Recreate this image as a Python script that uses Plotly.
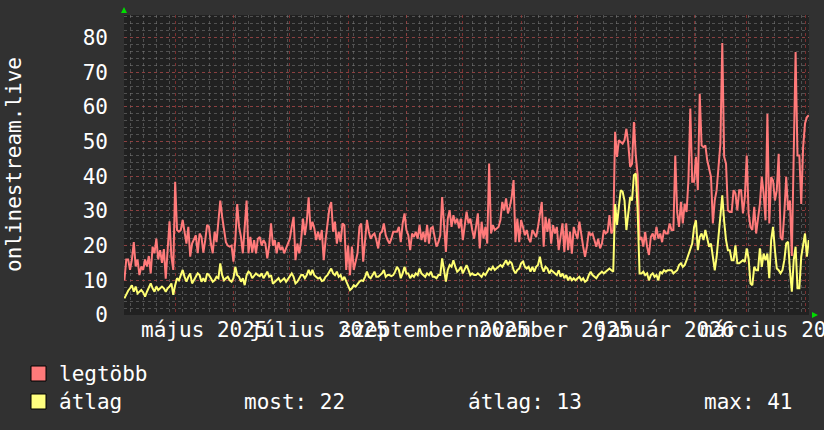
import pandas as pd
import plotly.graph_objects as go

# ---- data (daily values, 2025-04-04 .. 2026-04-03) ----
start_date = "2025-04-04"

legtobb = [
    10, 16, 16, 13, 16, 21, 14, 16, 11.5, 14,
    13, 16, 14, 17, 12, 19.7, 17.8, 22, 16, 18.7,
    15, 19, 10.5, 18.7, 27, 16.8, 13, 38.4, 24.5, 24,
    24.5, 27.4, 24.5, 20.6, 25.4, 16.8, 20.6, 22, 23, 17.8,
    23.5, 22.5, 18, 21.6, 26, 25.4, 20.6, 17.8, 24, 21,
    26.4, 33, 28.3, 24.5, 21, 20, 19.7, 20, 15.4, 21.6,
    32, 25.4, 22.5, 17.8, 25.4, 33, 17.8, 22.5, 18, 21.6,
    17.8, 22, 22.5, 20, 21.6, 20.6, 16.3, 20, 26.4, 20,
    21.6, 17.8, 21, 18.7, 19.7, 17.8, 19.2, 20.6, 22, 25.4,
    28.3, 15.8, 20.6, 17.8, 21.6, 27.8, 23, 26.9, 33.9, 24.5,
    26.9, 25, 21.6, 24, 21.6, 24.5, 15.8, 21.6, 26.4, 30.7,
    32.6, 24, 26.9, 20.6, 24, 21, 26.4, 25.9, 13, 20,
    11.5, 19.7, 13, 15.8, 17.8, 25.4, 26.4, 15.4, 22.5, 27.4,
    24, 22, 23, 23.5, 21.6, 19.2, 23.5, 24, 26.4, 23,
    21.6, 20.6, 22, 24, 24, 24, 25.4, 21, 26.4, 29.3,
    24.5, 23, 18.7, 23.5, 22.5, 24, 22, 26, 21.6, 24,
    21, 26, 20.6, 25, 25.4, 22, 19.7, 21, 23, 34,
    26.4, 18.2, 27.8, 30.2, 25.4, 28.8, 26.4, 27.8, 25, 27.8,
    21.6, 25.4, 29.8, 26.4, 27.8, 24.5, 22, 25.4, 29.3, 19.2,
    26.9, 22, 25.4, 20.6, 43.7, 23.5, 25.9, 24.5, 25, 25.4,
    27.4, 32.6, 30.2, 33.6, 29.3, 31.2, 34, 38.9, 21, 27.8,
    21, 27.4, 25.4, 23, 24.5, 22, 21, 24.5, 23.5, 22.5,
    25.4, 29.3, 32.6, 19.7, 28.3, 24, 27.8, 20.6, 25.9, 23.5,
    25.4, 18.7, 23.5, 26.4, 18.2, 26.4, 18.7, 24, 17.7, 25.4,
    23.5, 22, 26.9, 23, 19.7, 16.8, 19.7, 24, 23, 23.5,
    21.6, 19.7, 22, 19.2, 20.6, 24.5, 23.5, 24, 28.8, 23.5,
    24.5, 52.8, 45.6, 50.4, 49.9, 49.4, 50.4, 53.7, 49.4, 42.7,
    43.6, 55.6, 46, 40.3, 21.6, 22.5, 19.7, 24, 19.7, 17.3,
    22.5, 23.5, 21.6, 25.4, 22, 23.5, 21, 24.5, 23.5, 23.5,
    26.4, 24.5, 24.5, 46, 29.7, 25.4, 32.6, 26.4, 32.1, 29.7,
    38.8, 59.5, 38.4, 38.4, 45.6, 36, 63.8, 48.9, 48.4, 48.9,
    44.6, 41.7, 39.8, 26.4, 33.1, 36, 41.7, 49.4, 78.4, 45.6,
    43.6, 30.2, 29.7, 29.7, 36, 35, 30.2, 36, 36, 29.3,
    34, 46, 29.3, 25.4, 24.5, 31.2, 23.5, 27.3, 32, 39.8,
    35, 27.3, 58, 26.4, 39.8, 38.8, 33, 36, 46.5, 22.5,
    21.6, 29.3, 39.8, 30.2, 33, 17, 45.6, 75.8, 46, 46,
    32, 48.4, 55.2, 57, 57.6,
]

atlag = [
    4.8, 6.2, 7, 7.7, 8.6, 6.7, 8.2, 6.2, 6.7, 7.2,
    6.5, 5.3, 6.7, 7.7, 9.1, 7.7, 6.7, 8.2, 7.2, 7.7,
    8.2, 7.7, 6.7, 7.7, 8.2, 9.1, 5.8, 8.6, 10.6, 10,
    11.5, 13, 11, 9.6, 11, 12, 9.1, 10, 11, 12,
    11.5, 9.6, 10.6, 9.6, 12, 11.5, 10.6, 9.6, 10, 11,
    10.6, 14.9, 11.5, 10, 10.6, 11, 10, 9.6, 10.6, 13.9,
    11.5, 11, 9.6, 10.6, 8.6, 11.5, 12.5, 12, 10.6, 11.5,
    12, 11.5, 11.2, 12, 10.6, 11.5, 12.5, 11, 11.5, 9,
    9.6, 10, 10.6, 9.6, 10, 10.6, 9.6, 10.5, 11.5, 12,
    11, 9.1, 9.6, 10.6, 11.5, 11.5, 10.6, 11.5, 13, 11.5,
    13, 11.5, 11, 10.5, 10.8, 9.8, 10, 11, 11.5, 12.5,
    13.4, 12, 11.5, 12.5, 11, 11.5, 10, 11, 9.6, 8.6,
    7.2, 7.7, 8.6, 8.2, 9.1, 9.6, 10, 9.8, 11, 12.5,
    11, 10.6, 11.5, 12.5, 11, 11, 11.5, 12, 13, 11,
    11.5, 11.5, 11.2, 11.5, 12.5, 13.9, 13, 10.6, 12, 13.9,
    12, 12, 10.6, 11.5, 11, 12, 11.5, 13.4, 12, 11.5,
    11, 12, 11.5, 12.5, 11, 11, 10.6, 11.5, 11.5, 16.3,
    13, 9.6, 13, 14.4, 13.9, 15.8, 13.9, 12.5, 13, 13.9,
    12, 13.4, 14.4, 13, 11.5, 12, 11.5, 11.5, 12, 11.5,
    11, 12, 11.5, 12.5, 13.4, 13, 13.9, 13, 13.4, 13.9,
    14.4, 13.9, 14.9, 15.8, 14.4, 15.4, 14.9, 13, 12, 13,
    13.4, 14.9, 15.4, 13.9, 13.4, 13.9, 12.5, 13.9, 12.5, 13.9,
    14.4, 16.8, 13.9, 12.5, 13.9, 13.4, 12, 12.9, 12.5, 12,
    11.5, 12.9, 11, 12, 10.6, 11.5, 10, 11, 10, 10.6,
    10, 10.6, 11, 10, 10.6, 9.6, 10, 11.5, 12.5, 11.5,
    11, 10.6, 11.5, 12, 12.5, 12, 12.5, 12.9, 13.4, 12.9,
    12.5, 32, 26, 31.2, 36, 35.5, 33, 24.5, 30.2, 34,
    33, 40.3, 40.8, 30, 12, 12, 12.5, 11.5, 12, 10,
    11.5, 12, 11, 11.5, 10, 12.5, 12, 12.9, 12.5, 12.9,
    12.9, 12.9, 12, 12.5, 12.9, 14.4, 14.9, 13.9, 14.4, 15.8,
    17.3, 19.2, 20.6, 25.4, 27.3, 18.7, 22.5, 23.5, 21.6, 24.5,
    22.5, 19.7, 20.6, 15.8, 12.9, 16.8, 23.5, 30.2, 34.5, 27,
    21.6, 18.7, 18.7, 15.8, 15.8, 20.1, 14.9, 14.9, 15.3, 15.8,
    15.3, 19.2, 16.3, 9.1, 8.6, 13.9, 12.9, 12.9, 19.2, 13.9,
    17.7, 15.8, 17.7, 10.6, 21.6, 25.4, 18.7, 13.4, 12.9, 12,
    12.9, 15.8, 20.6, 21.1, 12.9, 6.7, 15.8, 19.7, 7.7, 7.7,
    16.8, 20.6, 23.5, 16.8, 21.6,
]

y_ticks = [0, 10, 20, 30, 40, 50, 60, 70, 80]
x_tick_dates = ["2025-05-16 12:00", "2025-07-16 12:00", "2025-09-16 00:00",
                "2025-11-16 00:00", "2026-01-16 12:00", "2026-03-16 12:00"]
x_tick_labels = ["május 2025", "július 2025", "szeptember 2025",
                 "november 2025", "január 2026", "március 2026"]
month_starts = ["2025-05-01", "2025-06-01", "2025-07-01", "2025-08-01",
                "2025-09-01", "2025-10-01", "2025-11-01", "2025-12-01",
                "2026-01-01", "2026-02-01", "2026-03-01", "2026-04-01"]
series_names = ["legtöbb", "átlag"]
axis_title = "onlinestream.live"

# ---- layout helpers ----
W, H = 824, 430
L, R, T, B = 124, 15, 15, 115
PW, PH = W - L - R, H - T - B


def px(x):
    return (x - L) / PW


def py(y):
    return (H - B - y) / PH


FONT = "DejaVu Sans Mono"
PINK = "#ff7a7a"
YELLOW = "#ffff73"
BG = "#313131"
PLOT_BG = "#212121"
MINOR_GRID = "rgba(130,130,130,0.5)"
MAJOR_GRID = "rgba(170,55,55,0.65)"

dates = pd.date_range(start_date, periods=len(legtobb), freq="D")
dates_avg = pd.date_range(start_date, periods=len(atlag), freq="D")
x_range = ["2025-04-03 19:00", "2026-04-03 03:00"]

fig = go.Figure()
fig.add_trace(go.Scatter(x=dates, y=legtobb, mode="lines",
                         line=dict(color=PINK, width=2), name=series_names[0],
                         hoverinfo="skip"))
fig.add_trace(go.Scatter(x=dates_avg, y=atlag, mode="lines",
                         line=dict(color=YELLOW, width=2), name=series_names[1],
                         hoverinfo="skip"))
fig.add_trace(go.Scatter(x=month_starts, y=[0] * len(month_starts), xaxis="x2",
                         mode="markers", marker=dict(opacity=0),
                         showlegend=False, hoverinfo="skip"))

fig.update_layout(
    width=W, height=H,
    margin=dict(l=L, r=R, t=T, b=B, autoexpand=False),
    paper_bgcolor=BG, plot_bgcolor=PLOT_BG,
    showlegend=False,
    font=dict(family=FONT, color="white", size=21),
    xaxis=dict(
        type="date", range=x_range, automargin=False,
        tickmode="array", tickvals=x_tick_dates, ticktext=x_tick_labels,
        tickangle=0, ticklabeloverflow="allow", ticklabelstandoff=0,
        tickfont=dict(family=FONT, size=21, color="white"),
        showgrid=False, zeroline=False, showline=False, ticks="",
        minor=dict(tickmode="linear", tick0="2025-04-07",
                   dtick=7 * 24 * 3600 * 1000, showgrid=True,
                   gridcolor=MINOR_GRID, griddash="dot", gridwidth=1),
    ),
    xaxis2=dict(
        type="date", range=x_range, overlaying="x", anchor="y", side="bottom",
        automargin=False,
        tickmode="array", tickvals=month_starts, showticklabels=False,
        showgrid=True, gridcolor=MAJOR_GRID, griddash="dot", gridwidth=1,
        zeroline=False, showline=False, ticks="",
    ),
    yaxis=dict(
        range=[0, 86.5], tickmode="array", tickvals=y_ticks, automargin=False,
        tickfont=dict(family=FONT, size=21, color="white"),
        showgrid=True, gridcolor=MAJOR_GRID, griddash="dot", gridwidth=1,
        zeroline=False, showline=False, ticks="", ticklabelstandoff=15,
        minor=dict(tickmode="linear", tick0=0, dtick=2, showgrid=True,
                   gridcolor=MINOR_GRID, griddash="dot", gridwidth=1),
    ),
)

# axis title
fig.add_annotation(xref="paper", yref="paper", x=px(14), y=py(165),
                   text=axis_title, textangle=-90, showarrow=False,
                   xanchor="center", yanchor="middle",
                   font=dict(family=FONT, size=21, color="white"))

# legend
sq = [(PINK, 366, 381), ("#ffff7f", 394, 409)]
for col, y0, y1 in sq:
    fig.add_shape(type="rect", xref="paper", yref="paper",
                  x0=px(31), x1=px(46), y0=py(y1), y1=py(y0),
                  fillcolor=col, line=dict(color="black", width=1))

most = round(atlag[-1])
mean_v = round(sum(atlag) / len(atlag))
max_v = round(max(atlag))
legend_texts = [
    (series_names[0], 57, 374),
    (series_names[1], 57, 402),
    (f"most: {most}", 242, 402),
    (f"átlag: {mean_v}", 466, 402),
    (f"max: {max_v}", 702, 402),
]
for txt, x0, yc in legend_texts:
    fig.add_annotation(xref="paper", yref="paper", x=px(x0), y=py(yc),
                       text=txt, showarrow=False, xanchor="left",
                       yanchor="middle",
                       font=dict(family=FONT, size=21, color="white"))

# green arrows
def tri(points):
    return "M " + " L ".join(f"{px(a)},{py(b)}" for a, b in points) + " Z"

fig.add_shape(type="path", xref="paper", yref="paper",
              path=tri([(121, 13), (127, 13), (124, 7)]),
              fillcolor="#00dd00", line=dict(color="#00dd00", width=0))
fig.add_shape(type="path", xref="paper", yref="paper",
              path=tri([(812, 312), (812, 318), (818, 315)]),
              fillcolor="#00dd00", line=dict(color="#00dd00", width=0))

fig.write_html(
    "out.html",
    config={"displayModeBar": False},
    post_script="document.body.style.margin='0';document.body.style.overflow='hidden';",
)
